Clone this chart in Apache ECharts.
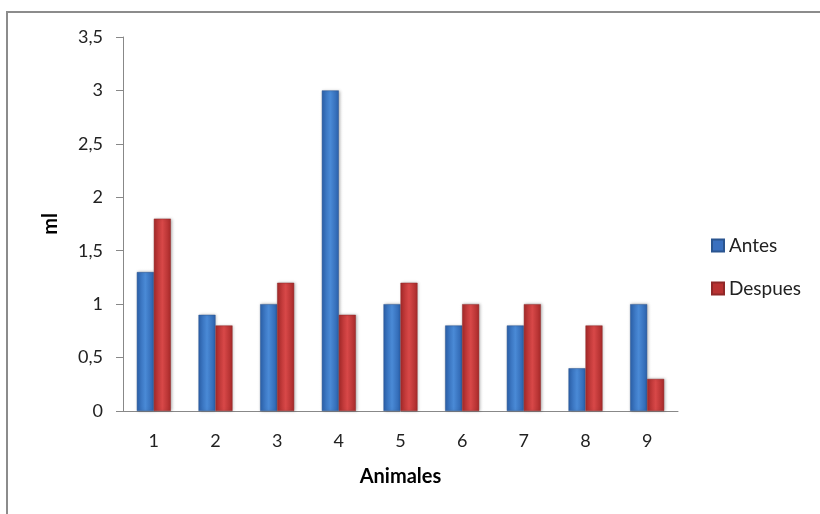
<!DOCTYPE html>
<html>
<head>
<meta charset="utf-8">
<script src="https://cdn.jsdelivr.net/npm/echarts@6/dist/echarts.min.js"></script>
<style>html,body{margin:0;padding:0;background:#fff}#c{width:820px;height:514px}</style>
</head>
<body>
<div id="c"></div>
<script>
const categories = ['1','2','3','4','5','6','7','8','9'];
const antes = [1.3, 0.9, 1.0, 3.0, 1.0, 0.8, 0.8, 0.4, 1.0];
const despues = [1.8, 0.8, 1.2, 0.9, 1.2, 1.0, 1.0, 0.8, 0.3];
const seriesNames = ['Antes', 'Despues'];

const FONT = 'Lato, "Open Sans", sans-serif';
function grad(a, b) {
  return new echarts.graphic.LinearGradient(0, 0, 1, 0, [
    {offset: 0, color: a}, {offset: 0.5, color: b}, {offset: 1, color: a}
  ]);
}
const chart = echarts.init(document.getElementById('c'), null, {renderer: 'canvas'});
chart.setOption({
  animation: false,
  backgroundColor: '#fff',
  graphic: [{
    type: 'rect', silent: true,
    shape: {x: 7, y: 12, width: 900, height: 600},
    style: {fill: 'none', stroke: '#8c8c8c', lineWidth: 2}
  }],
  grid: {left: 123, right: 142, top: 37, bottom: 103},
  legend: {
    orient: 'vertical', left: 711, top: 236,
    itemWidth: 12, itemHeight: 12, itemGap: 24, padding: 0,
    textStyle: {fontFamily: FONT, fontSize: 19, color: '#222'},
    data: [
      {name: 'Antes', icon: 'rect', itemStyle: {color: '#3a70bf'}},
      {name: 'Despues', icon: 'rect', itemStyle: {color: '#b83232'}}
    ]
  },
  xAxis: {
    type: 'category', data: categories,
    name: 'Animales', nameLocation: 'middle', nameGap: 56,
    nameTextStyle: {fontFamily: FONT, fontSize: 20, fontWeight: 'bold', color: '#000'},
    axisLine: {lineStyle: {color: '#888', width: 1}},
    axisTick: {show: false},
    axisLabel: {fontFamily: FONT, fontSize: 18, color: '#222', margin: 21}
  },
  yAxis: {
    type: 'value', min: 0, max: 3.5, interval: 0.5,
    name: 'ml', nameLocation: 'middle', nameGap: 62, nameRotate: 90,
    nameTextStyle: {fontFamily: FONT, fontSize: 20, fontWeight: 'bold', color: '#000'},
    axisLine: {show: true, lineStyle: {color: '#888', width: 1}},
    axisTick: {show: true, length: 7, lineStyle: {color: '#888'}},
    splitLine: {show: false},
    axisLabel: {fontFamily: FONT, fontSize: 18, color: '#222', margin: 20,
      formatter: v => String(v).replace('.', ',')}
  },
  series: [
    {name: seriesNames[0], type: 'bar', data: antes, barWidth: 17, barGap: '0%',
     itemStyle: {color: grad('#2c62ad', '#4a8ad6'), borderColor: '#2a5590', borderWidth: 0.5,
       shadowColor: 'rgba(0,0,0,0.25)', shadowBlur: 3, shadowOffsetX: 1}},
    {name: seriesNames[1], type: 'bar', data: despues, barWidth: 17, barGap: '0%',
     itemStyle: {color: grad('#a82a2a', '#d84848'), borderColor: '#902828', borderWidth: 0.5,
       shadowColor: 'rgba(0,0,0,0.25)', shadowBlur: 3, shadowOffsetX: 1}}
  ]
});
</script>
</body>
</html>
